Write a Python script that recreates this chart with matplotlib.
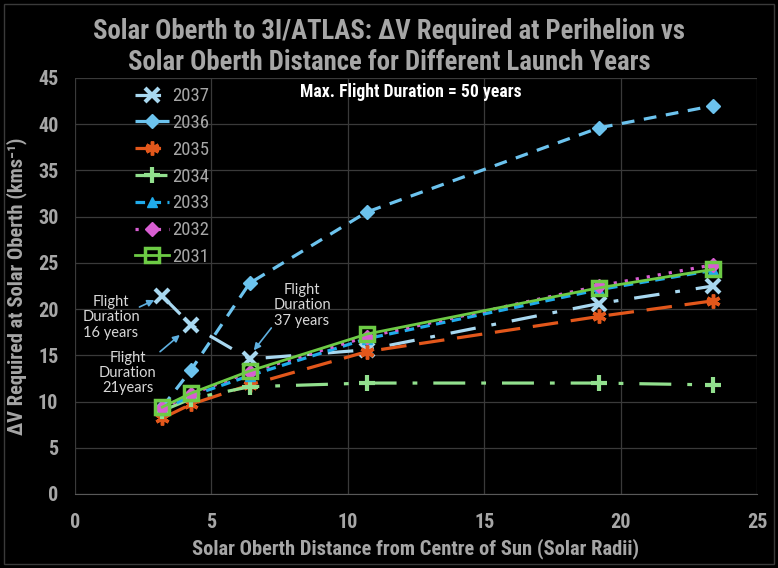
import matplotlib
matplotlib.use('Agg')
import matplotlib.pyplot as plt
from matplotlib.patches import Rectangle

plt.rcParams['font.family'] = ['Roboto Condensed', 'Liberation Sans Narrow', 'Lato', 'DejaVu Sans']

# distance from centre of sun (solar radii)
dist = [3.2, 4.25, 6.4, 10.7, 19.2, 23.4]

dv_2037 = [21.4, 18.3, 14.6, 15.6, 20.6, 22.5]
dv_2036 = [9.4, 13.4, 22.8, 30.5, 39.6, 42.0]
dv_2035 = [8.2, 9.7, 11.8, 15.4, 19.2, 20.9]
dv_2034 = [9.0, 10.3, 11.6, 12.0, 12.0, 11.8]
dv_2033 = [9.1, 10.6, 12.8, 16.8, 22.1, 24.2]
dv_2032 = [9.3, 10.8, 13.2, 17.0, 22.5, 24.8]
dv_2031 = [9.4, 10.9, 13.3, 17.3, 22.3, 24.3]

gray = '#A6A6A6'

fig = plt.figure(figsize=(7.78, 5.68), dpi=100, facecolor='black')
ax = fig.add_axes([0.0964, 0.1303, 0.8766, 0.7324])
ax.set_facecolor('black')
fig.patches.append(Rectangle((4 / 778, 4 / 568), 770 / 778, 560 / 568,
                             transform=fig.transFigure, fill=False,
                             edgecolor='#3A3A3A', linewidth=1))

ax.plot(dist, dv_2037, color='#A8D8F0', lw=2.3, dashes=(8, 5, 1.5, 5),
        marker='x', ms=10, mew=3, label='2037')
ax.plot(dist, dv_2036, color='#6CC3EE', lw=2.3, dashes=(4, 3),
        marker='D', ms=7, label='2036')
ax.plot(dist, dv_2035, color='#E2571B', lw=2.3, dashes=(8, 4),
        marker=(6, 2, 0), ms=10, mew=2.5, label='2035')
ax.plot(dist, dv_2034, color='#92E08E', lw=2.3, dashes=(10, 5, 1.5, 5),
        marker='+', ms=12, mew=3, label='2034')
ax.plot(dist, dv_2033, color='#20ABEB', lw=2.3, dashes=(3, 2),
        marker='^', ms=7, label='2033')
ax.plot(dist, dv_2032, color='#D85ED2', lw=2.3, dashes=(1, 2.5),
        marker='D', ms=7, label='2032')
ax.plot(dist, dv_2031, color='#6DCB45', lw=2, linestyle='-',
        marker='s', ms=9.5, mew=2.5, mfc='none', label='2031')

ax.set_xlim(0, 25)
ax.set_ylim(0, 45)
ax.set_xticks(range(0, 26, 5))
ax.set_yticks(range(0, 46, 5))
ax.grid(True, color='#3A3A3A', linewidth=0.9)
ax.set_axisbelow(True)
for s in ['top', 'right', 'left']:
    ax.spines[s].set_visible(False)
ax.spines['bottom'].set_color('#595959')
ax.tick_params(length=0, colors=gray, labelsize=14.5)
ax.tick_params(axis='y', pad=12)
ax.tick_params(axis='x', pad=14)
for lbl in ax.get_xticklabels() + ax.get_yticklabels():
    lbl.set_fontweight('bold')

ax.set_xlabel('Solar Oberth Distance from Centre of Sun (Solar Radii)',
              fontsize=14.8, fontweight='bold', color=gray, labelpad=4)
ax.set_ylabel('ΔV Required at Solar Oberth (kms⁻¹)',
              fontsize=14.8, fontweight='bold', color=gray, labelpad=8)

fig.text(0.5, 0.945, 'Solar Oberth to 3I/ATLAS: ΔV Required at Perihelion vs',
         ha='center', va='center', fontsize=19.3, fontweight='bold', color=gray)
fig.text(0.5, 0.890, 'Solar Oberth Distance for Different Launch Years',
         ha='center', va='center', fontsize=19.3, fontweight='bold', color=gray)

ax.text(0.493, 0.966, 'Max. Flight Duration = 50 years', transform=ax.transAxes,
        ha='center', va='center', fontsize=12.7, fontweight='bold', color='white')

leg = ax.legend(loc='upper left', bbox_to_anchor=(0.088, 0.978), frameon=False,
                fontsize=13.5, labelspacing=0.47, handlelength=1.8,
                handletextpad=0.2, borderpad=0, borderaxespad=0)
for t in leg.get_texts():
    t.set_color(gray)

arrow = dict(arrowstyle='-|>', color='#5FB0E0', lw=1.2, mutation_scale=10)
note = dict(ha='center', va='center', fontsize=10.5, color='#D9D9D9',
            linespacing=1.1, family=['Lato', 'DejaVu Sans'])
ax.text(1.32, 19.1, 'Flight\nDuration\n16 years', **note)
ax.annotate('', xy=(3.0, 21.1), xytext=(2.27, 20.1), arrowprops=arrow)
ax.text(1.94, 13.05, 'Flight\nDuration\n21years', **note)
ax.annotate('', xy=(3.92, 17.4), xytext=(3.04, 15.2), arrowprops=arrow)
ax.text(8.32, 20.4, 'Flight\nDuration\n37 years', **note)
ax.annotate('', xy=(6.49, 15.3), xytext=(7.26, 18.2), arrowprops=arrow)

fig.savefig('out.png', dpi=100, facecolor='black')
